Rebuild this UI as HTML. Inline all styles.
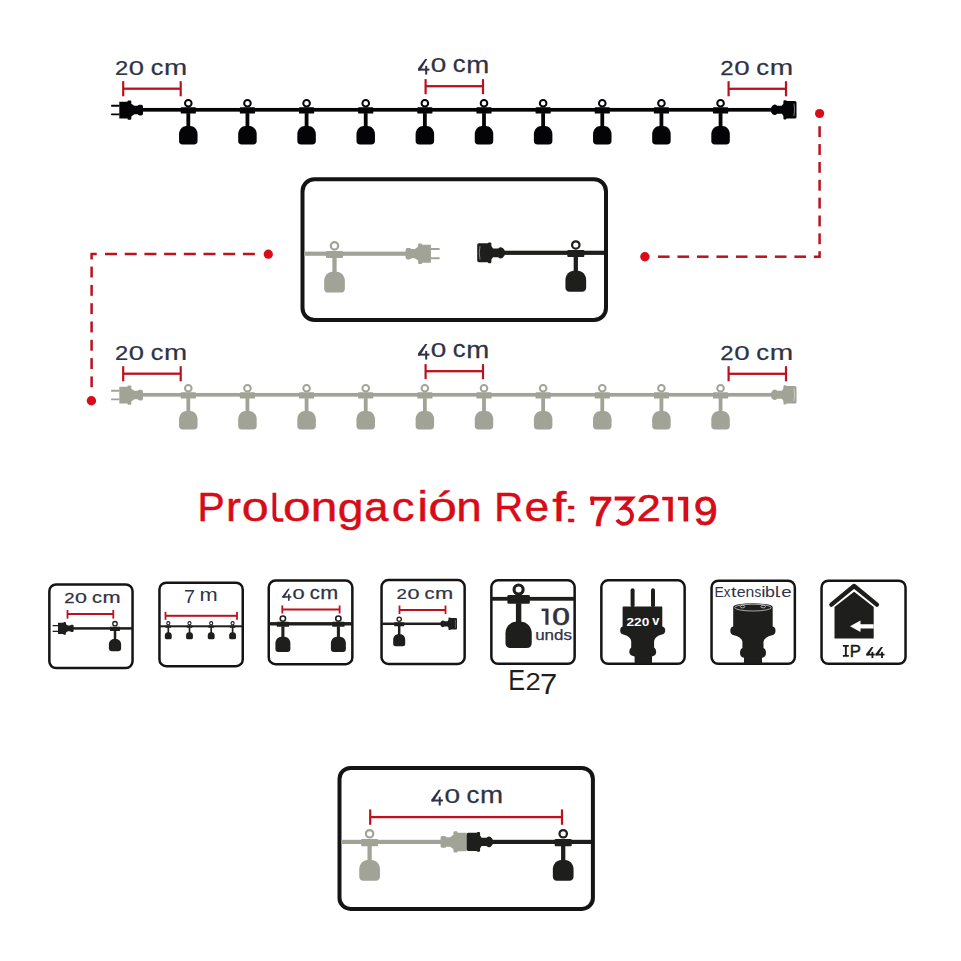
<!DOCTYPE html>
<html><head><meta charset="utf-8"><style>
html,body{margin:0;padding:0;background:#fff;overflow:hidden;}
svg{display:block;}
text{font-family:"Liberation Sans",sans-serif;}
</style></head><body>
<svg width="961" height="961" viewBox="0 0 961 961">
<rect width="961" height="961" fill="#fff"/>
<rect x="140.00" y="107.95" width="633.00" height="3.70" fill="#040406"/>
<g transform="translate(111.10,110.05) scale(1.000,1.000)" fill="#040406"><path d="M8.2,-8.4 L16.4,-8.4 L16.4,-8.7 Q16.4,-9.6 17.4,-9.6 L19.2,-9.6 Q20.2,-9.6 20.2,-8.6 L20.2,-6.4 L23.2,-4.3 L26.6,-4.3 Q27.2,-5.4 28.6,-5.4 L30.2,-5.4 Q31.9,-5.4 31.9,-3.4 L31.9,3.4 Q31.9,5.4 30.2,5.4 L28.6,5.4 Q27.2,5.4 26.6,4.3 L23.2,4.3 L20.2,6.4 L20.2,8.6 Q20.2,9.6 19.2,9.6 L17.4,9.6 Q16.4,9.6 16.4,8.7 L16.4,8.4 L8.2,8.4 Z"/><path d="M0.3,-5.3 H8.4 V-3.4 H0.3 Q0,-3.4 0,-4.35 Q0,-5.3 0.3,-5.3 Z M0.3,3.4 H8.4 V5.3 H0.3 Q0,5.3 0,4.35 Q0,3.4 0.3,3.4 Z"/></g>
<circle cx="188.30" cy="103.20" r="3.30" fill="none" stroke="#040406" stroke-width="2.00"/>
<rect x="180.70" y="107.30" width="15.20" height="6.30" rx="0.90" fill="#040406"/>
<rect x="186.40" y="113.10" width="3.80" height="13.80" fill="#040406"/>
<path d="M179.05,134.08 C179.05,129.34 182.75,125.90 186.45,125.90 L190.15,125.90 C193.85,125.90 197.55,129.34 197.55,134.08 L197.55,140.78 Q197.55,144.50 193.83,144.50 L182.77,144.50 Q179.05,144.50 179.05,140.78 Z" fill="#040406"/>
<circle cx="247.44" cy="103.20" r="3.30" fill="none" stroke="#040406" stroke-width="2.00"/>
<rect x="239.84" y="107.30" width="15.20" height="6.30" rx="0.90" fill="#040406"/>
<rect x="245.54" y="113.10" width="3.80" height="13.80" fill="#040406"/>
<path d="M238.19,134.08 C238.19,129.34 241.89,125.90 245.59,125.90 L249.29,125.90 C252.99,125.90 256.69,129.34 256.69,134.08 L256.69,140.78 Q256.69,144.50 252.97,144.50 L241.91,144.50 Q238.19,144.50 238.19,140.78 Z" fill="#040406"/>
<circle cx="306.58" cy="103.20" r="3.30" fill="none" stroke="#040406" stroke-width="2.00"/>
<rect x="298.98" y="107.30" width="15.20" height="6.30" rx="0.90" fill="#040406"/>
<rect x="304.68" y="113.10" width="3.80" height="13.80" fill="#040406"/>
<path d="M297.33,134.08 C297.33,129.34 301.03,125.90 304.73,125.90 L308.43,125.90 C312.13,125.90 315.83,129.34 315.83,134.08 L315.83,140.78 Q315.83,144.50 312.11,144.50 L301.05,144.50 Q297.33,144.50 297.33,140.78 Z" fill="#040406"/>
<circle cx="365.72" cy="103.20" r="3.30" fill="none" stroke="#040406" stroke-width="2.00"/>
<rect x="358.12" y="107.30" width="15.20" height="6.30" rx="0.90" fill="#040406"/>
<rect x="363.82" y="113.10" width="3.80" height="13.80" fill="#040406"/>
<path d="M356.47,134.08 C356.47,129.34 360.17,125.90 363.87,125.90 L367.57,125.90 C371.27,125.90 374.97,129.34 374.97,134.08 L374.97,140.78 Q374.97,144.50 371.25,144.50 L360.19,144.50 Q356.47,144.50 356.47,140.78 Z" fill="#040406"/>
<circle cx="424.86" cy="103.20" r="3.30" fill="none" stroke="#040406" stroke-width="2.00"/>
<rect x="417.26" y="107.30" width="15.20" height="6.30" rx="0.90" fill="#040406"/>
<rect x="422.96" y="113.10" width="3.80" height="13.80" fill="#040406"/>
<path d="M415.61,134.08 C415.61,129.34 419.31,125.90 423.01,125.90 L426.71,125.90 C430.41,125.90 434.11,129.34 434.11,134.08 L434.11,140.78 Q434.11,144.50 430.39,144.50 L419.33,144.50 Q415.61,144.50 415.61,140.78 Z" fill="#040406"/>
<circle cx="484.00" cy="103.20" r="3.30" fill="none" stroke="#040406" stroke-width="2.00"/>
<rect x="476.40" y="107.30" width="15.20" height="6.30" rx="0.90" fill="#040406"/>
<rect x="482.10" y="113.10" width="3.80" height="13.80" fill="#040406"/>
<path d="M474.75,134.08 C474.75,129.34 478.45,125.90 482.15,125.90 L485.85,125.90 C489.55,125.90 493.25,129.34 493.25,134.08 L493.25,140.78 Q493.25,144.50 489.53,144.50 L478.47,144.50 Q474.75,144.50 474.75,140.78 Z" fill="#040406"/>
<circle cx="543.14" cy="103.20" r="3.30" fill="none" stroke="#040406" stroke-width="2.00"/>
<rect x="535.54" y="107.30" width="15.20" height="6.30" rx="0.90" fill="#040406"/>
<rect x="541.24" y="113.10" width="3.80" height="13.80" fill="#040406"/>
<path d="M533.89,134.08 C533.89,129.34 537.59,125.90 541.29,125.90 L544.99,125.90 C548.69,125.90 552.39,129.34 552.39,134.08 L552.39,140.78 Q552.39,144.50 548.67,144.50 L537.61,144.50 Q533.89,144.50 533.89,140.78 Z" fill="#040406"/>
<circle cx="602.28" cy="103.20" r="3.30" fill="none" stroke="#040406" stroke-width="2.00"/>
<rect x="594.68" y="107.30" width="15.20" height="6.30" rx="0.90" fill="#040406"/>
<rect x="600.38" y="113.10" width="3.80" height="13.80" fill="#040406"/>
<path d="M593.03,134.08 C593.03,129.34 596.73,125.90 600.43,125.90 L604.13,125.90 C607.83,125.90 611.53,129.34 611.53,134.08 L611.53,140.78 Q611.53,144.50 607.81,144.50 L596.75,144.50 Q593.03,144.50 593.03,140.78 Z" fill="#040406"/>
<circle cx="661.42" cy="103.20" r="3.30" fill="none" stroke="#040406" stroke-width="2.00"/>
<rect x="653.82" y="107.30" width="15.20" height="6.30" rx="0.90" fill="#040406"/>
<rect x="659.52" y="113.10" width="3.80" height="13.80" fill="#040406"/>
<path d="M652.17,134.08 C652.17,129.34 655.87,125.90 659.57,125.90 L663.27,125.90 C666.97,125.90 670.67,129.34 670.67,134.08 L670.67,140.78 Q670.67,144.50 666.95,144.50 L655.89,144.50 Q652.17,144.50 652.17,140.78 Z" fill="#040406"/>
<circle cx="720.56" cy="103.20" r="3.30" fill="none" stroke="#040406" stroke-width="2.00"/>
<rect x="712.96" y="107.30" width="15.20" height="6.30" rx="0.90" fill="#040406"/>
<rect x="718.66" y="113.10" width="3.80" height="13.80" fill="#040406"/>
<path d="M711.31,134.08 C711.31,129.34 715.01,125.90 718.71,125.90 L722.41,125.90 C726.11,125.90 729.81,129.34 729.81,134.08 L729.81,140.78 Q729.81,144.50 726.09,144.50 L715.03,144.50 Q711.31,144.50 711.31,140.78 Z" fill="#040406"/>
<g transform="translate(796.50,109.80) scale(-1.000,1.000)"><path d="M0,-7.2 Q0,-8.8 1.6,-8.8 L9.8,-8.8 Q9.9,-9.6 10.9,-9.6 L12.1,-9.6 Q13.1,-9.6 13.1,-8.4 L13.1,-6.2 L14.6,-4.0 L19.4,-4.0 Q20.4,-5.2 21.9,-5.2 Q23.6,-5.2 25.3,-2.6 L25.3,2.6 Q23.6,5.2 21.9,5.2 Q20.4,5.2 19.4,4.0 L14.6,4.0 L13.1,6.2 L13.1,8.4 Q13.1,9.6 12.1,9.6 L10.9,9.6 Q9.9,9.6 9.8,8.8 L1.6,8.8 Q0,8.8 0,7.2 Z" fill="#040406"/><path d="M2.6,-6.2 Q1.2,0 2.6,6.2" fill="none" stroke="#8a8a8a" stroke-width="0.9"/></g>
<rect x="122.10" y="81.20" width="2.20" height="15.10" fill="#bb1220"/>
<rect x="179.60" y="81.20" width="2.20" height="15.10" fill="#bb1220"/>
<rect x="123.20" y="87.55" width="57.50" height="2.30" fill="#bb1220"/>
<rect x="424.50" y="79.10" width="2.20" height="15.10" fill="#bb1220"/>
<rect x="481.90" y="79.10" width="2.20" height="15.10" fill="#bb1220"/>
<rect x="425.60" y="85.05" width="57.40" height="2.30" fill="#bb1220"/>
<rect x="727.50" y="81.20" width="2.20" height="15.10" fill="#bb1220"/>
<rect x="784.90" y="81.20" width="2.20" height="15.10" fill="#bb1220"/>
<rect x="728.60" y="87.65" width="57.40" height="2.30" fill="#bb1220"/>
<text transform="translate(115.01,74.80) scale(1.1824,1)" x="0" y="0" font-size="20.05" fill="#2f3346" stroke="#2f3346" stroke-width="0.25" stroke-linejoin="round">2</text>
<text transform="translate(128.83,74.80) scale(1.3664,1)" x="0" y="0" font-size="20.06" fill="#2f3346" stroke="#2f3346" stroke-width="0.22" stroke-linejoin="round">0</text>
<text transform="translate(150.63,74.59) scale(1.1542,1)" x="0" y="0" font-size="21.90" fill="#2f3346" stroke="#2f3346" stroke-width="0.26" stroke-linejoin="round">c</text>
<text transform="translate(163.95,74.60) scale(1.2376,1)" x="0" y="0" font-size="22.49" fill="#2f3346" stroke="#2f3346" stroke-width="0.24" stroke-linejoin="round">m</text>
<path fill="#2f3346" d="M425.10,59.00 L427.30,59.00 L420.20,70.61 L418.00,70.61 L418.00,68.61 Z"/>
<rect x="418.00" y="68.61" width="11.43" height="2.00" fill="#2f3346"/>
<rect x="425.20" y="65.86" width="2.00" height="8.74" fill="#2f3346"/>
<text transform="translate(430.85,72.21) scale(1.4111,1)" x="0" y="0" font-size="19.77" fill="#2f3346" stroke="#2f3346" stroke-width="0.21" stroke-linejoin="round">0</text>
<text transform="translate(452.82,72.47) scale(1.1038,1)" x="0" y="0" font-size="23.18" fill="#2f3346" stroke="#2f3346" stroke-width="0.27" stroke-linejoin="round">c</text>
<text transform="translate(466.21,72.50) scale(1.1704,1)" x="0" y="0" font-size="23.60" fill="#2f3346" stroke="#2f3346" stroke-width="0.26" stroke-linejoin="round">m</text>
<text transform="translate(720.20,75.00) scale(1.1859,1)" x="0" y="0" font-size="20.19" fill="#2f3346" stroke="#2f3346" stroke-width="0.25" stroke-linejoin="round">2</text>
<text transform="translate(734.16,75.00) scale(1.3704,1)" x="0" y="0" font-size="20.20" fill="#2f3346" stroke="#2f3346" stroke-width="0.22" stroke-linejoin="round">0</text>
<text transform="translate(756.17,74.78) scale(1.1576,1)" x="0" y="0" font-size="22.06" fill="#2f3346" stroke="#2f3346" stroke-width="0.26" stroke-linejoin="round">c</text>
<text transform="translate(769.64,74.80) scale(1.2413,1)" x="0" y="0" font-size="22.65" fill="#2f3346" stroke="#2f3346" stroke-width="0.24" stroke-linejoin="round">m</text>
<rect x="140.00" y="392.95" width="633.00" height="3.70" fill="#a2a397"/>
<g transform="translate(111.10,395.05) scale(1.000,1.000)" fill="#a2a397"><path d="M8.2,-8.4 L16.4,-8.4 L16.4,-8.7 Q16.4,-9.6 17.4,-9.6 L19.2,-9.6 Q20.2,-9.6 20.2,-8.6 L20.2,-6.4 L23.2,-4.3 L26.6,-4.3 Q27.2,-5.4 28.6,-5.4 L30.2,-5.4 Q31.9,-5.4 31.9,-3.4 L31.9,3.4 Q31.9,5.4 30.2,5.4 L28.6,5.4 Q27.2,5.4 26.6,4.3 L23.2,4.3 L20.2,6.4 L20.2,8.6 Q20.2,9.6 19.2,9.6 L17.4,9.6 Q16.4,9.6 16.4,8.7 L16.4,8.4 L8.2,8.4 Z"/><path d="M0.3,-5.3 H8.4 V-3.4 H0.3 Q0,-3.4 0,-4.35 Q0,-5.3 0.3,-5.3 Z M0.3,3.4 H8.4 V5.3 H0.3 Q0,5.3 0,4.35 Q0,3.4 0.3,3.4 Z"/></g>
<circle cx="188.30" cy="388.20" r="3.30" fill="none" stroke="#a2a397" stroke-width="2.00"/>
<rect x="180.70" y="392.30" width="15.20" height="6.30" rx="0.90" fill="#a2a397"/>
<rect x="186.40" y="398.10" width="3.80" height="13.80" fill="#a2a397"/>
<path d="M179.05,419.08 C179.05,414.34 182.75,410.90 186.45,410.90 L190.15,410.90 C193.85,410.90 197.55,414.34 197.55,419.08 L197.55,425.78 Q197.55,429.50 193.83,429.50 L182.77,429.50 Q179.05,429.50 179.05,425.78 Z" fill="#a2a397"/>
<circle cx="247.44" cy="388.20" r="3.30" fill="none" stroke="#a2a397" stroke-width="2.00"/>
<rect x="239.84" y="392.30" width="15.20" height="6.30" rx="0.90" fill="#a2a397"/>
<rect x="245.54" y="398.10" width="3.80" height="13.80" fill="#a2a397"/>
<path d="M238.19,419.08 C238.19,414.34 241.89,410.90 245.59,410.90 L249.29,410.90 C252.99,410.90 256.69,414.34 256.69,419.08 L256.69,425.78 Q256.69,429.50 252.97,429.50 L241.91,429.50 Q238.19,429.50 238.19,425.78 Z" fill="#a2a397"/>
<circle cx="306.58" cy="388.20" r="3.30" fill="none" stroke="#a2a397" stroke-width="2.00"/>
<rect x="298.98" y="392.30" width="15.20" height="6.30" rx="0.90" fill="#a2a397"/>
<rect x="304.68" y="398.10" width="3.80" height="13.80" fill="#a2a397"/>
<path d="M297.33,419.08 C297.33,414.34 301.03,410.90 304.73,410.90 L308.43,410.90 C312.13,410.90 315.83,414.34 315.83,419.08 L315.83,425.78 Q315.83,429.50 312.11,429.50 L301.05,429.50 Q297.33,429.50 297.33,425.78 Z" fill="#a2a397"/>
<circle cx="365.72" cy="388.20" r="3.30" fill="none" stroke="#a2a397" stroke-width="2.00"/>
<rect x="358.12" y="392.30" width="15.20" height="6.30" rx="0.90" fill="#a2a397"/>
<rect x="363.82" y="398.10" width="3.80" height="13.80" fill="#a2a397"/>
<path d="M356.47,419.08 C356.47,414.34 360.17,410.90 363.87,410.90 L367.57,410.90 C371.27,410.90 374.97,414.34 374.97,419.08 L374.97,425.78 Q374.97,429.50 371.25,429.50 L360.19,429.50 Q356.47,429.50 356.47,425.78 Z" fill="#a2a397"/>
<circle cx="424.86" cy="388.20" r="3.30" fill="none" stroke="#a2a397" stroke-width="2.00"/>
<rect x="417.26" y="392.30" width="15.20" height="6.30" rx="0.90" fill="#a2a397"/>
<rect x="422.96" y="398.10" width="3.80" height="13.80" fill="#a2a397"/>
<path d="M415.61,419.08 C415.61,414.34 419.31,410.90 423.01,410.90 L426.71,410.90 C430.41,410.90 434.11,414.34 434.11,419.08 L434.11,425.78 Q434.11,429.50 430.39,429.50 L419.33,429.50 Q415.61,429.50 415.61,425.78 Z" fill="#a2a397"/>
<circle cx="484.00" cy="388.20" r="3.30" fill="none" stroke="#a2a397" stroke-width="2.00"/>
<rect x="476.40" y="392.30" width="15.20" height="6.30" rx="0.90" fill="#a2a397"/>
<rect x="482.10" y="398.10" width="3.80" height="13.80" fill="#a2a397"/>
<path d="M474.75,419.08 C474.75,414.34 478.45,410.90 482.15,410.90 L485.85,410.90 C489.55,410.90 493.25,414.34 493.25,419.08 L493.25,425.78 Q493.25,429.50 489.53,429.50 L478.47,429.50 Q474.75,429.50 474.75,425.78 Z" fill="#a2a397"/>
<circle cx="543.14" cy="388.20" r="3.30" fill="none" stroke="#a2a397" stroke-width="2.00"/>
<rect x="535.54" y="392.30" width="15.20" height="6.30" rx="0.90" fill="#a2a397"/>
<rect x="541.24" y="398.10" width="3.80" height="13.80" fill="#a2a397"/>
<path d="M533.89,419.08 C533.89,414.34 537.59,410.90 541.29,410.90 L544.99,410.90 C548.69,410.90 552.39,414.34 552.39,419.08 L552.39,425.78 Q552.39,429.50 548.67,429.50 L537.61,429.50 Q533.89,429.50 533.89,425.78 Z" fill="#a2a397"/>
<circle cx="602.28" cy="388.20" r="3.30" fill="none" stroke="#a2a397" stroke-width="2.00"/>
<rect x="594.68" y="392.30" width="15.20" height="6.30" rx="0.90" fill="#a2a397"/>
<rect x="600.38" y="398.10" width="3.80" height="13.80" fill="#a2a397"/>
<path d="M593.03,419.08 C593.03,414.34 596.73,410.90 600.43,410.90 L604.13,410.90 C607.83,410.90 611.53,414.34 611.53,419.08 L611.53,425.78 Q611.53,429.50 607.81,429.50 L596.75,429.50 Q593.03,429.50 593.03,425.78 Z" fill="#a2a397"/>
<circle cx="661.42" cy="388.20" r="3.30" fill="none" stroke="#a2a397" stroke-width="2.00"/>
<rect x="653.82" y="392.30" width="15.20" height="6.30" rx="0.90" fill="#a2a397"/>
<rect x="659.52" y="398.10" width="3.80" height="13.80" fill="#a2a397"/>
<path d="M652.17,419.08 C652.17,414.34 655.87,410.90 659.57,410.90 L663.27,410.90 C666.97,410.90 670.67,414.34 670.67,419.08 L670.67,425.78 Q670.67,429.50 666.95,429.50 L655.89,429.50 Q652.17,429.50 652.17,425.78 Z" fill="#a2a397"/>
<circle cx="720.56" cy="388.20" r="3.30" fill="none" stroke="#a2a397" stroke-width="2.00"/>
<rect x="712.96" y="392.30" width="15.20" height="6.30" rx="0.90" fill="#a2a397"/>
<rect x="718.66" y="398.10" width="3.80" height="13.80" fill="#a2a397"/>
<path d="M711.31,419.08 C711.31,414.34 715.01,410.90 718.71,410.90 L722.41,410.90 C726.11,410.90 729.81,414.34 729.81,419.08 L729.81,425.78 Q729.81,429.50 726.09,429.50 L715.03,429.50 Q711.31,429.50 711.31,425.78 Z" fill="#a2a397"/>
<g transform="translate(796.50,394.80) scale(-1.000,1.000)"><path d="M0,-7.2 Q0,-8.8 1.6,-8.8 L9.8,-8.8 Q9.9,-9.6 10.9,-9.6 L12.1,-9.6 Q13.1,-9.6 13.1,-8.4 L13.1,-6.2 L14.6,-4.0 L19.4,-4.0 Q20.4,-5.2 21.9,-5.2 Q23.6,-5.2 25.3,-2.6 L25.3,2.6 Q23.6,5.2 21.9,5.2 Q20.4,5.2 19.4,4.0 L14.6,4.0 L13.1,6.2 L13.1,8.4 Q13.1,9.6 12.1,9.6 L10.9,9.6 Q9.9,9.6 9.8,8.8 L1.6,8.8 Q0,8.8 0,7.2 Z" fill="#a2a397"/><path d="M2.6,-6.2 Q1.2,0 2.6,6.2" fill="none" stroke="#d2d2ca" stroke-width="0.9"/></g>
<rect x="122.10" y="366.20" width="2.20" height="15.10" fill="#bb1220"/>
<rect x="179.60" y="366.20" width="2.20" height="15.10" fill="#bb1220"/>
<rect x="123.20" y="372.55" width="57.50" height="2.30" fill="#bb1220"/>
<rect x="424.50" y="364.10" width="2.20" height="15.10" fill="#bb1220"/>
<rect x="481.90" y="364.10" width="2.20" height="15.10" fill="#bb1220"/>
<rect x="425.60" y="370.05" width="57.40" height="2.30" fill="#bb1220"/>
<rect x="727.50" y="366.20" width="2.20" height="15.10" fill="#bb1220"/>
<rect x="784.90" y="366.20" width="2.20" height="15.10" fill="#bb1220"/>
<rect x="728.60" y="372.65" width="57.40" height="2.30" fill="#bb1220"/>
<text transform="translate(115.01,359.80) scale(1.1824,1)" x="0" y="0" font-size="20.05" fill="#2f3346" stroke="#2f3346" stroke-width="0.25" stroke-linejoin="round">2</text>
<text transform="translate(128.83,359.80) scale(1.3664,1)" x="0" y="0" font-size="20.06" fill="#2f3346" stroke="#2f3346" stroke-width="0.22" stroke-linejoin="round">0</text>
<text transform="translate(150.63,359.59) scale(1.1542,1)" x="0" y="0" font-size="21.90" fill="#2f3346" stroke="#2f3346" stroke-width="0.26" stroke-linejoin="round">c</text>
<text transform="translate(163.95,359.60) scale(1.2376,1)" x="0" y="0" font-size="22.49" fill="#2f3346" stroke="#2f3346" stroke-width="0.24" stroke-linejoin="round">m</text>
<path fill="#2f3346" d="M425.10,344.00 L427.30,344.00 L420.20,355.61 L418.00,355.61 L418.00,353.61 Z"/>
<rect x="418.00" y="353.61" width="11.43" height="2.00" fill="#2f3346"/>
<rect x="425.20" y="350.86" width="2.00" height="8.74" fill="#2f3346"/>
<text transform="translate(430.85,357.21) scale(1.4111,1)" x="0" y="0" font-size="19.77" fill="#2f3346" stroke="#2f3346" stroke-width="0.21" stroke-linejoin="round">0</text>
<text transform="translate(452.82,357.47) scale(1.1038,1)" x="0" y="0" font-size="23.18" fill="#2f3346" stroke="#2f3346" stroke-width="0.27" stroke-linejoin="round">c</text>
<text transform="translate(466.21,357.50) scale(1.1704,1)" x="0" y="0" font-size="23.60" fill="#2f3346" stroke="#2f3346" stroke-width="0.26" stroke-linejoin="round">m</text>
<text transform="translate(720.20,360.00) scale(1.1859,1)" x="0" y="0" font-size="20.19" fill="#2f3346" stroke="#2f3346" stroke-width="0.25" stroke-linejoin="round">2</text>
<text transform="translate(734.16,360.00) scale(1.3704,1)" x="0" y="0" font-size="20.20" fill="#2f3346" stroke="#2f3346" stroke-width="0.22" stroke-linejoin="round">0</text>
<text transform="translate(756.17,359.78) scale(1.1576,1)" x="0" y="0" font-size="22.06" fill="#2f3346" stroke="#2f3346" stroke-width="0.26" stroke-linejoin="round">c</text>
<text transform="translate(769.64,359.80) scale(1.2413,1)" x="0" y="0" font-size="22.65" fill="#2f3346" stroke="#2f3346" stroke-width="0.24" stroke-linejoin="round">m</text>
<circle cx="819.60" cy="113.50" r="4.60" fill="#d70c18"/>
<rect x="818.35" y="126.20" width="2.5" height="10.90" fill="#bb1220"/>
<rect x="818.35" y="144.06" width="2.5" height="10.90" fill="#bb1220"/>
<rect x="818.35" y="161.92" width="2.5" height="10.90" fill="#bb1220"/>
<rect x="818.35" y="179.78" width="2.5" height="10.90" fill="#bb1220"/>
<rect x="818.35" y="197.64" width="2.5" height="10.90" fill="#bb1220"/>
<rect x="818.35" y="215.50" width="2.5" height="10.90" fill="#bb1220"/>
<rect x="818.35" y="233.36" width="2.5" height="10.90" fill="#bb1220"/>
<path d="M819.6,251.2 V256.7 H813.9" fill="none" stroke="#bb1220" stroke-width="2.5" stroke-linejoin="miter"/>
<rect x="794.40" y="255.45" width="11.60" height="2.5" fill="#bb1220"/>
<rect x="774.91" y="255.45" width="11.60" height="2.5" fill="#bb1220"/>
<rect x="755.42" y="255.45" width="11.60" height="2.5" fill="#bb1220"/>
<rect x="735.93" y="255.45" width="11.60" height="2.5" fill="#bb1220"/>
<rect x="716.44" y="255.45" width="11.60" height="2.5" fill="#bb1220"/>
<rect x="696.95" y="255.45" width="11.60" height="2.5" fill="#bb1220"/>
<rect x="677.46" y="255.45" width="11.60" height="2.5" fill="#bb1220"/>
<rect x="657.97" y="255.45" width="11.60" height="2.5" fill="#bb1220"/>
<circle cx="644.90" cy="256.80" r="4.70" fill="#d70c18"/>
<circle cx="268.30" cy="254.20" r="4.60" fill="#d70c18"/>
<rect x="105.00" y="252.75" width="12.00" height="2.5" fill="#bb1220"/>
<rect x="124.70" y="252.75" width="12.00" height="2.5" fill="#bb1220"/>
<rect x="144.40" y="252.75" width="12.00" height="2.5" fill="#bb1220"/>
<rect x="164.10" y="252.75" width="12.00" height="2.5" fill="#bb1220"/>
<rect x="183.80" y="252.75" width="12.00" height="2.5" fill="#bb1220"/>
<rect x="203.50" y="252.75" width="12.00" height="2.5" fill="#bb1220"/>
<rect x="223.20" y="252.75" width="12.00" height="2.5" fill="#bb1220"/>
<rect x="242.90" y="252.75" width="12.00" height="2.5" fill="#bb1220"/>
<path d="M96.7,254.0 H91.6 V259.6" fill="none" stroke="#bb1220" stroke-width="2.5" stroke-linejoin="miter"/>
<rect x="90.35" y="266.60" width="2.5" height="10.90" fill="#bb1220"/>
<rect x="90.35" y="284.90" width="2.5" height="10.90" fill="#bb1220"/>
<rect x="90.35" y="303.20" width="2.5" height="10.90" fill="#bb1220"/>
<rect x="90.35" y="321.50" width="2.5" height="10.90" fill="#bb1220"/>
<rect x="90.35" y="339.80" width="2.5" height="10.90" fill="#bb1220"/>
<rect x="90.35" y="358.10" width="2.5" height="10.90" fill="#bb1220"/>
<rect x="90.35" y="376.40" width="2.5" height="10.90" fill="#bb1220"/>
<circle cx="91.40" cy="400.70" r="4.70" fill="#d70c18"/>
<rect x="302.50" y="179.20" width="303.50" height="140.80" rx="12.00" fill="none" stroke="#141414" stroke-width="4"/>
<rect x="304.00" y="251.60" width="103.00" height="4.20" fill="#a2a397"/>
<circle cx="334.50" cy="245.86" r="3.70" fill="none" stroke="#a2a397" stroke-width="2.24"/>
<rect x="325.99" y="250.90" width="17.02" height="7.06" rx="1.01" fill="#a2a397"/>
<rect x="332.37" y="257.46" width="4.26" height="15.28" fill="#a2a397"/>
<path d="M324.14,280.90 C324.14,275.58 328.28,271.73 332.43,271.73 L336.57,271.73 C340.72,271.73 344.86,275.58 344.86,280.90 L344.86,288.40 Q344.86,292.56 340.69,292.56 L328.31,292.56 Q324.14,292.56 324.14,288.40 Z" fill="#a2a397"/>
<g transform="translate(439.70,253.70) scale(-1.070,1.070)" fill="#a2a397"><path d="M8.2,-8.4 L16.4,-8.4 L16.4,-8.7 Q16.4,-9.6 17.4,-9.6 L19.2,-9.6 Q20.2,-9.6 20.2,-8.6 L20.2,-6.4 L23.2,-4.3 L26.6,-4.3 Q27.2,-5.4 28.6,-5.4 L30.2,-5.4 Q31.9,-5.4 31.9,-3.4 L31.9,3.4 Q31.9,5.4 30.2,5.4 L28.6,5.4 Q27.2,5.4 26.6,4.3 L23.2,4.3 L20.2,6.4 L20.2,8.6 Q20.2,9.6 19.2,9.6 L17.4,9.6 Q16.4,9.6 16.4,8.7 L16.4,8.4 L8.2,8.4 Z"/><path d="M0.3,-5.3 H8.4 V-3.4 H0.3 Q0,-3.4 0,-4.35 Q0,-5.3 0.3,-5.3 Z M0.3,3.4 H8.4 V5.3 H0.3 Q0,5.3 0,4.35 Q0,3.4 0.3,3.4 Z"/></g>
<g transform="translate(477.20,252.80) scale(1.083,1.083)"><path d="M0,-7.2 Q0,-8.8 1.6,-8.8 L9.8,-8.8 Q9.9,-9.6 10.9,-9.6 L12.1,-9.6 Q13.1,-9.6 13.1,-8.4 L13.1,-6.2 L14.6,-4.0 L19.4,-4.0 Q20.4,-5.2 21.9,-5.2 Q23.6,-5.2 25.3,-2.6 L25.3,2.6 Q23.6,5.2 21.9,5.2 Q20.4,5.2 19.4,4.0 L14.6,4.0 L13.1,6.2 L13.1,8.4 Q13.1,9.6 12.1,9.6 L10.9,9.6 Q9.9,9.6 9.8,8.8 L1.6,8.8 Q0,8.8 0,7.2 Z" fill="#1e1e1c"/><path d="M2.6,-6.2 Q1.2,0 2.6,6.2" fill="none" stroke="#8a8a8a" stroke-width="0.9"/></g>
<rect x="503.00" y="250.70" width="101.00" height="4.20" fill="#1e1e1c"/>
<circle cx="575.80" cy="244.96" r="3.70" fill="none" stroke="#1e1e1c" stroke-width="2.24"/>
<rect x="567.29" y="250.00" width="17.02" height="7.06" rx="1.01" fill="#1e1e1c"/>
<rect x="573.67" y="256.56" width="4.26" height="15.28" fill="#1e1e1c"/>
<path d="M565.44,280.00 C565.44,274.68 569.58,270.83 573.73,270.83 L577.87,270.83 C582.02,270.83 586.16,274.68 586.16,280.00 L586.16,287.50 Q586.16,291.66 581.99,291.66 L569.61,291.66 Q565.44,291.66 565.44,287.50 Z" fill="#1e1e1c"/>
<rect x="339.50" y="767.90" width="253.40" height="141.00" rx="11.00" fill="none" stroke="#141414" stroke-width="4"/>
<rect x="341.00" y="839.80" width="101.00" height="4.20" fill="#a2a397"/>
<circle cx="369.60" cy="833.72" r="3.70" fill="none" stroke="#a2a397" stroke-width="2.24"/>
<rect x="361.09" y="839.10" width="17.02" height="7.06" rx="1.01" fill="#a2a397"/>
<rect x="367.47" y="845.66" width="4.26" height="15.28" fill="#a2a397"/>
<path d="M359.24,869.10 C359.24,863.78 363.38,859.93 367.53,859.93 L371.67,859.93 C375.82,859.93 379.96,863.78 379.96,869.10 L379.96,876.60 Q379.96,880.76 375.79,880.76 L363.41,880.76 Q359.24,880.76 359.24,876.60 Z" fill="#a2a397"/>
<g transform="translate(475.62,841.90) scale(-1.100,1.100)" fill="#a2a397"><path d="M8.2,-8.4 L16.4,-8.4 L16.4,-8.7 Q16.4,-9.6 17.4,-9.6 L19.2,-9.6 Q20.2,-9.6 20.2,-8.6 L20.2,-6.4 L23.2,-4.3 L26.6,-4.3 Q27.2,-5.4 28.6,-5.4 L30.2,-5.4 Q31.9,-5.4 31.9,-3.4 L31.9,3.4 Q31.9,5.4 30.2,5.4 L28.6,5.4 Q27.2,5.4 26.6,4.3 L23.2,4.3 L20.2,6.4 L20.2,8.6 Q20.2,9.6 19.2,9.6 L17.4,9.6 Q16.4,9.6 16.4,8.7 L16.4,8.4 L8.2,8.4 Z"/></g>
<g transform="translate(466.60,841.90) scale(1.030,1.030)"><path d="M0,-7.2 Q0,-8.8 1.6,-8.8 L9.8,-8.8 Q9.9,-9.6 10.9,-9.6 L12.1,-9.6 Q13.1,-9.6 13.1,-8.4 L13.1,-6.2 L14.6,-4.0 L19.4,-4.0 Q20.4,-5.2 21.9,-5.2 Q23.6,-5.2 25.3,-2.6 L25.3,2.6 Q23.6,5.2 21.9,5.2 Q20.4,5.2 19.4,4.0 L14.6,4.0 L13.1,6.2 L13.1,8.4 Q13.1,9.6 12.1,9.6 L10.9,9.6 Q9.9,9.6 9.8,8.8 L1.6,8.8 Q0,8.8 0,7.2 Z" fill="#1e1e1c"/></g>
<rect x="490.00" y="839.80" width="101.00" height="4.20" fill="#1e1e1c"/>
<circle cx="563.20" cy="833.72" r="3.70" fill="none" stroke="#1e1e1c" stroke-width="2.24"/>
<rect x="554.69" y="839.10" width="17.02" height="7.06" rx="1.01" fill="#1e1e1c"/>
<rect x="561.07" y="845.66" width="4.26" height="15.28" fill="#1e1e1c"/>
<path d="M552.84,869.10 C552.84,863.78 556.98,859.93 561.13,859.93 L565.27,859.93 C569.42,859.93 573.56,863.78 573.56,869.10 L573.56,876.60 Q573.56,880.76 569.39,880.76 L557.01,880.76 Q552.84,880.76 552.84,876.60 Z" fill="#1e1e1c"/>
<rect x="369.10" y="809.40" width="2.20" height="15.40" fill="#bb1220"/>
<rect x="560.90" y="809.40" width="2.20" height="15.40" fill="#bb1220"/>
<rect x="370.20" y="815.95" width="191.80" height="2.30" fill="#bb1220"/>
<path fill="#2f3346" d="M438.62,789.80 L440.84,789.80 L433.71,801.50 L431.50,801.50 L431.50,799.48 Z"/>
<rect x="431.50" y="799.48" width="11.48" height="2.01" fill="#2f3346"/>
<rect x="438.73" y="796.72" width="2.01" height="8.80" fill="#2f3346"/>
<text transform="translate(444.41,803.11) scale(1.4072,1)" x="0" y="0" font-size="19.92" fill="#2f3346" stroke="#2f3346" stroke-width="0.21" stroke-linejoin="round">0</text>
<text transform="translate(466.47,803.37) scale(1.1007,1)" x="0" y="0" font-size="23.35" fill="#2f3346" stroke="#2f3346" stroke-width="0.27" stroke-linejoin="round">c</text>
<text transform="translate(479.92,803.40) scale(1.1671,1)" x="0" y="0" font-size="23.77" fill="#2f3346" stroke="#2f3346" stroke-width="0.26" stroke-linejoin="round">m</text>
<text transform="translate(197.46,521.40) scale(0.9982,1)" x="0" y="0" font-size="40.84" fill="#d70c18" stroke="#d70c18" stroke-width="0.50" stroke-linejoin="round">P</text>
<text transform="translate(225.93,521.40) scale(1.1007,1)" x="0" y="0" font-size="40.70" fill="#d70c18" stroke="#d70c18" stroke-width="0.45" stroke-linejoin="round">r</text>
<text transform="translate(241.76,521.40) scale(1.1809,1)" x="0" y="0" font-size="41.07" fill="#d70c18" stroke="#d70c18" stroke-width="0.42" stroke-linejoin="round">o</text>
<text transform="translate(283.12,521.40) scale(1.2067,1)" x="0" y="0" font-size="41.07" fill="#d70c18" stroke="#d70c18" stroke-width="0.41" stroke-linejoin="round">o</text>
<text transform="translate(310.63,521.40) scale(1.1635,1)" x="0" y="0" font-size="41.07" fill="#d70c18" stroke="#d70c18" stroke-width="0.43" stroke-linejoin="round">n</text>
<text transform="translate(337.86,521.58) scale(1.1139,1)" x="0" y="0" font-size="41.52" fill="#d70c18" stroke="#d70c18" stroke-width="0.45" stroke-linejoin="round">g</text>
<text transform="translate(364.26,521.40) scale(1.0571,1)" x="0" y="0" font-size="41.07" fill="#d70c18" stroke="#d70c18" stroke-width="0.47" stroke-linejoin="round">a</text>
<text transform="translate(391.87,521.40) scale(1.1069,1)" x="0" y="0" font-size="41.07" fill="#d70c18" stroke="#d70c18" stroke-width="0.45" stroke-linejoin="round">c</text>
<text transform="translate(417.13,521.40) scale(1.1623,1)" x="0" y="0" font-size="42.09" fill="#d70c18" stroke="#d70c18" stroke-width="0.43" stroke-linejoin="round">i</text>
<text transform="translate(428.13,521.40) scale(1.2683,1)" x="0" y="0" font-size="40.75" fill="#d70c18" stroke="#d70c18" stroke-width="0.39" stroke-linejoin="round">ó</text>
<text transform="translate(456.35,521.40) scale(1.1176,1)" x="0" y="0" font-size="41.07" fill="#d70c18" stroke="#d70c18" stroke-width="0.45" stroke-linejoin="round">n</text>
<text transform="translate(494.23,521.40) scale(0.9704,1)" x="0" y="0" font-size="41.13" fill="#d70c18" stroke="#d70c18" stroke-width="0.52" stroke-linejoin="round">R</text>
<text transform="translate(524.52,521.40) scale(1.0890,1)" x="0" y="0" font-size="40.70" fill="#d70c18" stroke="#d70c18" stroke-width="0.46" stroke-linejoin="round">e</text>
<text transform="translate(552.28,521.40) scale(1.2618,1)" x="0" y="0" font-size="40.35" fill="#d70c18" stroke="#d70c18" stroke-width="0.40" stroke-linejoin="round">f</text>
<text transform="translate(563.03,521.80) scale(2.0309,1)" x="0" y="0" font-size="28.96" fill="#d70c18" stroke="#d70c18" stroke-width="0.25" stroke-linejoin="round">:</text>
<path fill="#d70c18" d="M272.5,492.8 V515.5 Q272.5,521.8 278.5,521.8 H283.3 V518.3 H279 Q276.2,518.3 276.2,515.2 V492.8 Z"/>
<path fill="none" stroke="#d70c18" stroke-width="3.8" stroke-linejoin="miter" d="M614.6,498.5 H631.6 L623.0,507.9 A8.0,8.0 0 1 1 617.07,519.80"/>
<rect x="590.6" y="496.6" width="3.6" height="8.4" fill="#d70c18"/>
<text transform="translate(588.20,525.70) scale(1.0610,1)" x="0" y="0" font-size="42.30" fill="#d70c18" stroke="#d70c18" stroke-width="0.75" stroke-linejoin="round">7</text>
<text transform="translate(636.74,521.40) scale(1.1921,1)" x="0" y="0" font-size="36.09" fill="#d70c18" stroke="#d70c18" stroke-width="0.67" stroke-linejoin="round">2</text>
<text transform="translate(693.77,525.20) scale(1.0498,1)" x="0" y="0" font-size="41.24" fill="#d70c18" stroke="#d70c18" stroke-width="0.76" stroke-linejoin="round">9</text>
<rect x="668.3" y="496.8" width="4.50" height="24.7" fill="#d70c18"/>
<rect x="662.2" y="496.8" width="6.60" height="3.5" fill="#d70c18"/>
<rect x="683.5" y="496.8" width="4.70" height="24.7" fill="#d70c18"/>
<rect x="678.0" y="496.8" width="6.00" height="3.5" fill="#d70c18"/>
<rect x="49.35" y="584.45" width="83.20" height="83.60" rx="6.75" fill="none" stroke="#141414" stroke-width="2.5"/>
<rect x="159.45" y="582.65" width="83.30" height="83.50" rx="6.75" fill="none" stroke="#141414" stroke-width="2.5"/>
<rect x="268.75" y="580.55" width="83.60" height="83.60" rx="6.75" fill="none" stroke="#141414" stroke-width="2.5"/>
<rect x="381.55" y="580.05" width="83.10" height="83.90" rx="6.75" fill="none" stroke="#141414" stroke-width="2.5"/>
<rect x="491.35" y="580.35" width="83.30" height="83.40" rx="6.75" fill="none" stroke="#141414" stroke-width="2.5"/>
<rect x="601.35" y="580.35" width="83.30" height="83.40" rx="6.75" fill="none" stroke="#141414" stroke-width="2.5"/>
<rect x="711.55" y="580.65" width="83.30" height="83.10" rx="6.75" fill="none" stroke="#141414" stroke-width="2.5"/>
<rect x="821.55" y="580.65" width="84.00" height="83.10" rx="6.75" fill="none" stroke="#141414" stroke-width="2.5"/>
<text transform="translate(64.17,603.00) scale(1.2204,1)" x="0" y="0" font-size="15.18" fill="#2f3346" stroke="#2f3346" stroke-width="0.25" stroke-linejoin="round">2</text>
<text transform="translate(74.97,603.00) scale(1.4103,1)" x="0" y="0" font-size="15.19" fill="#2f3346" stroke="#2f3346" stroke-width="0.21" stroke-linejoin="round">0</text>
<text transform="translate(92.00,602.84) scale(1.1913,1)" x="0" y="0" font-size="16.58" fill="#2f3346" stroke="#2f3346" stroke-width="0.25" stroke-linejoin="round">c</text>
<text transform="translate(102.42,602.85) scale(1.2774,1)" x="0" y="0" font-size="17.03" fill="#2f3346" stroke="#2f3346" stroke-width="0.23" stroke-linejoin="round">m</text>
<rect x="66.60" y="610.00" width="1.80" height="8.60" fill="#bb1220"/>
<rect x="112.40" y="610.00" width="1.80" height="8.60" fill="#bb1220"/>
<rect x="67.50" y="613.00" width="45.80" height="2.00" fill="#bb1220"/>
<rect x="72.00" y="627.15" width="60.00" height="2.50" fill="#1e1e1c"/>
<g transform="translate(52.60,628.40) scale(0.660,0.660)" fill="#1e1e1c"><path d="M8.2,-8.4 L16.4,-8.4 L16.4,-8.7 Q16.4,-9.6 17.4,-9.6 L19.2,-9.6 Q20.2,-9.6 20.2,-8.6 L20.2,-6.4 L23.2,-4.3 L26.6,-4.3 Q27.2,-5.4 28.6,-5.4 L30.2,-5.4 Q31.9,-5.4 31.9,-3.4 L31.9,3.4 Q31.9,5.4 30.2,5.4 L28.6,5.4 Q27.2,5.4 26.6,4.3 L23.2,4.3 L20.2,6.4 L20.2,8.6 Q20.2,9.6 19.2,9.6 L17.4,9.6 Q16.4,9.6 16.4,8.7 L16.4,8.4 L8.2,8.4 Z"/><path d="M0.3,-5.3 H8.4 V-3.4 H0.3 Q0,-3.4 0,-4.35 Q0,-5.3 0.3,-5.3 Z M0.3,3.4 H8.4 V5.3 H0.3 Q0,5.3 0,4.35 Q0,3.4 0.3,3.4 Z"/></g>
<circle cx="115.00" cy="623.65" r="2.18" fill="none" stroke="#1e1e1c" stroke-width="1.32"/>
<rect x="109.98" y="626.75" width="10.03" height="4.16" rx="0.59" fill="#1e1e1c"/>
<rect x="113.75" y="630.41" width="2.51" height="9.62" fill="#1e1e1c"/>
<path d="M108.89,644.43 C108.89,641.29 111.34,639.03 113.78,639.03 L116.22,639.03 C118.66,639.03 121.11,641.29 121.11,644.43 L121.11,648.85 Q121.11,651.30 118.65,651.30 L111.35,651.30 Q108.89,651.30 108.89,648.85 Z" fill="#1e1e1c"/>
<text transform="translate(183.98,602.80) scale(1.0985,1)" x="0" y="0" font-size="18.02" fill="#2f3346">7</text>
<text transform="translate(199.55,600.90) scale(1.2500,1)" x="0" y="0" font-size="17.47" fill="#2f3346">m</text>
<rect x="164.60" y="611.80" width="1.80" height="8.00" fill="#bb1220"/>
<rect x="236.10" y="611.80" width="1.80" height="8.00" fill="#bb1220"/>
<rect x="165.50" y="614.80" width="71.50" height="2.00" fill="#bb1220"/>
<rect x="159.50" y="625.30" width="83.50" height="2.00" fill="#1e1e1c"/>
<circle cx="168.30" cy="623.19" r="1.55" fill="none" stroke="#1e1e1c" stroke-width="1.11"/>
<rect x="165.49" y="625.38" width="5.62" height="2.33" rx="0.33" fill="#1e1e1c"/>
<rect x="167.47" y="627.21" width="1.67" height="6.05" fill="#1e1e1c"/>
<path d="M164.88,635.29 C164.88,633.53 166.25,632.26 167.62,632.26 L168.98,632.26 C170.35,632.26 171.72,633.53 171.72,635.29 L171.72,637.76 Q171.72,639.14 170.35,639.14 L166.25,639.14 Q164.88,639.14 164.88,637.76 Z" fill="#1e1e1c"/>
<circle cx="189.50" cy="623.19" r="1.55" fill="none" stroke="#1e1e1c" stroke-width="1.11"/>
<rect x="186.69" y="625.38" width="5.62" height="2.33" rx="0.33" fill="#1e1e1c"/>
<rect x="188.67" y="627.21" width="1.67" height="6.05" fill="#1e1e1c"/>
<path d="M186.08,635.29 C186.08,633.53 187.45,632.26 188.82,632.26 L190.18,632.26 C191.55,632.26 192.92,633.53 192.92,635.29 L192.92,637.76 Q192.92,639.14 191.55,639.14 L187.45,639.14 Q186.08,639.14 186.08,637.76 Z" fill="#1e1e1c"/>
<circle cx="211.20" cy="623.19" r="1.55" fill="none" stroke="#1e1e1c" stroke-width="1.11"/>
<rect x="208.39" y="625.38" width="5.62" height="2.33" rx="0.33" fill="#1e1e1c"/>
<rect x="210.37" y="627.21" width="1.67" height="6.05" fill="#1e1e1c"/>
<path d="M207.78,635.29 C207.78,633.53 209.15,632.26 210.52,632.26 L211.88,632.26 C213.25,632.26 214.62,633.53 214.62,635.29 L214.62,637.76 Q214.62,639.14 213.25,639.14 L209.15,639.14 Q207.78,639.14 207.78,637.76 Z" fill="#1e1e1c"/>
<circle cx="232.60" cy="623.19" r="1.55" fill="none" stroke="#1e1e1c" stroke-width="1.11"/>
<rect x="229.79" y="625.38" width="5.62" height="2.33" rx="0.33" fill="#1e1e1c"/>
<rect x="231.77" y="627.21" width="1.67" height="6.05" fill="#1e1e1c"/>
<path d="M229.18,635.29 C229.18,633.53 230.55,632.26 231.92,632.26 L233.28,632.26 C234.65,632.26 236.02,633.53 236.02,635.29 L236.02,637.76 Q236.02,639.14 234.65,639.14 L230.55,639.14 Q229.18,639.14 229.18,637.76 Z" fill="#1e1e1c"/>
<path fill="#2f3346" d="M287.98,588.67 L289.69,588.67 L284.13,597.70 L282.42,597.70 L282.42,596.15 Z"/>
<rect x="282.42" y="596.15" width="8.94" height="1.56" fill="#2f3346"/>
<rect x="288.05" y="594.01" width="1.56" height="6.80" fill="#2f3346"/>
<text transform="translate(292.47,598.95) scale(1.4175,1)" x="0" y="0" font-size="15.40" fill="#2f3346" stroke="#2f3346" stroke-width="0.21" stroke-linejoin="round">0</text>
<text transform="translate(309.65,599.16) scale(1.1088,1)" x="0" y="0" font-size="18.05" fill="#2f3346" stroke="#2f3346" stroke-width="0.27" stroke-linejoin="round">c</text>
<text transform="translate(320.13,599.18) scale(1.1757,1)" x="0" y="0" font-size="18.38" fill="#2f3346" stroke="#2f3346" stroke-width="0.26" stroke-linejoin="round">m</text>
<rect x="281.40" y="605.50" width="1.80" height="8.00" fill="#bb1220"/>
<rect x="338.70" y="605.50" width="1.80" height="8.00" fill="#bb1220"/>
<rect x="282.30" y="608.50" width="57.30" height="2.00" fill="#bb1220"/>
<rect x="269.00" y="622.10" width="83.00" height="3.40" fill="#1e1e1c"/>
<circle cx="282.90" cy="618.62" r="2.67" fill="none" stroke="#1e1e1c" stroke-width="1.62"/>
<rect x="276.74" y="621.77" width="12.31" height="5.10" rx="0.73" fill="#1e1e1c"/>
<rect x="281.36" y="626.38" width="3.08" height="11.46" fill="#1e1e1c"/>
<path d="M275.41,643.47 C275.41,639.63 278.40,636.84 281.40,636.84 L284.40,636.84 C287.40,636.84 290.39,639.63 290.39,643.47 L290.39,648.89 Q290.39,651.91 287.38,651.91 L278.42,651.91 Q275.41,651.91 275.41,648.89 Z" fill="#1e1e1c"/>
<circle cx="338.40" cy="618.62" r="2.67" fill="none" stroke="#1e1e1c" stroke-width="1.62"/>
<rect x="332.24" y="621.77" width="12.31" height="5.10" rx="0.73" fill="#1e1e1c"/>
<rect x="336.86" y="626.38" width="3.08" height="11.46" fill="#1e1e1c"/>
<path d="M330.91,643.47 C330.91,639.63 333.90,636.84 336.90,636.84 L339.90,636.84 C342.90,636.84 345.89,639.63 345.89,643.47 L345.89,648.89 Q345.89,651.91 342.88,651.91 L333.92,651.91 Q330.91,651.91 330.91,648.89 Z" fill="#1e1e1c"/>
<text transform="translate(396.56,598.80) scale(1.2249,1)" x="0" y="0" font-size="15.18" fill="#2f3346" stroke="#2f3346" stroke-width="0.24" stroke-linejoin="round">2</text>
<text transform="translate(407.41,598.80) scale(1.4155,1)" x="0" y="0" font-size="15.19" fill="#2f3346" stroke="#2f3346" stroke-width="0.21" stroke-linejoin="round">0</text>
<text transform="translate(424.50,598.64) scale(1.1957,1)" x="0" y="0" font-size="16.58" fill="#2f3346" stroke="#2f3346" stroke-width="0.25" stroke-linejoin="round">c</text>
<text transform="translate(434.96,598.65) scale(1.2821,1)" x="0" y="0" font-size="17.03" fill="#2f3346" stroke="#2f3346" stroke-width="0.23" stroke-linejoin="round">m</text>
<rect x="398.60" y="605.50" width="1.80" height="8.50" fill="#bb1220"/>
<rect x="444.60" y="605.50" width="1.80" height="8.50" fill="#bb1220"/>
<rect x="399.50" y="609.00" width="46.00" height="2.00" fill="#bb1220"/>
<rect x="381.50" y="622.55" width="60.50" height="2.50" fill="#1e1e1c"/>
<circle cx="399.20" cy="619.25" r="2.15" fill="none" stroke="#1e1e1c" stroke-width="1.30"/>
<rect x="394.26" y="622.17" width="9.88" height="4.09" rx="0.59" fill="#1e1e1c"/>
<rect x="397.96" y="625.77" width="2.47" height="9.50" fill="#1e1e1c"/>
<path d="M393.19,639.58 C393.19,636.50 395.59,634.26 398.00,634.26 L400.40,634.26 C402.81,634.26 405.21,636.50 405.21,639.58 L405.21,643.94 Q405.21,646.35 402.79,646.35 L395.61,646.35 Q393.19,646.35 393.19,643.94 Z" fill="#1e1e1c"/>
<g transform="translate(457.00,623.80) scale(-0.650,0.650)"><path d="M0,-7.2 Q0,-8.8 1.6,-8.8 L9.8,-8.8 Q9.9,-9.6 10.9,-9.6 L12.1,-9.6 Q13.1,-9.6 13.1,-8.4 L13.1,-6.2 L14.6,-4.0 L19.4,-4.0 Q20.4,-5.2 21.9,-5.2 Q23.6,-5.2 25.3,-2.6 L25.3,2.6 Q23.6,5.2 21.9,5.2 Q20.4,5.2 19.4,4.0 L14.6,4.0 L13.1,6.2 L13.1,8.4 Q13.1,9.6 12.1,9.6 L10.9,9.6 Q9.9,9.6 9.8,8.8 L1.6,8.8 Q0,8.8 0,7.2 Z" fill="#1e1e1c"/><path d="M2.6,-6.2 Q1.2,0 2.6,6.2" fill="none" stroke="#8a8a8a" stroke-width="0.9"/></g>
<rect x="491.50" y="596.90" width="83.00" height="3.80" fill="#1e1e1c"/>
<circle cx="518.60" cy="589.57" r="4.54" fill="none" stroke="#1e1e1c" stroke-width="3.12"/>
<rect x="507.38" y="594.97" width="22.44" height="8.80" rx="1.28" fill="#1e1e1c"/>
<rect x="515.90" y="603.27" width="5.40" height="19.39" fill="#1e1e1c"/>
<path d="M505.47,633.28 C505.47,626.54 510.72,621.66 515.97,621.66 L521.23,621.66 C526.48,621.66 531.74,626.54 531.74,633.28 L531.74,642.79 Q531.74,648.07 526.45,648.07 L510.75,648.07 Q505.47,648.07 505.47,642.79 Z" fill="#1e1e1c"/>
<rect x="545.4" y="608.6" width="3.1" height="16.2" fill="#2f3346"/>
<rect x="541.6" y="608.6" width="4.2" height="2.5" fill="#2f3346"/>
<text transform="translate(552.27,624.87) scale(1.3312,1)" x="0" y="0" font-size="23.73" fill="#2f3346" stroke="#2f3346" stroke-width="0.68" stroke-linejoin="round">0</text>
<text x="535.20" y="639.50" font-size="14.49" textLength="36.82" lengthAdjust="spacingAndGlyphs" fill="#2f3346" stroke="#2f3346" stroke-width="0.25" stroke-linejoin="round" >unds</text>
<text transform="translate(508.13,689.80) scale(0.8321,1)" x="0" y="0" font-size="30.38" fill="#1e1e1e">E</text>
<text transform="translate(525.42,689.80) scale(1.1336,1)" x="0" y="0" font-size="24.20" fill="#1e1e1e">2</text>
<text transform="translate(540.01,693.50) scale(1.0359,1)" x="0" y="0" font-size="29.94" fill="#1e1e1e">7</text>
<rect x="630.6" y="588.3" width="4.0" height="19" rx="2" fill="#1e1e1c"/>
<rect x="651.0" y="588.3" width="4.0" height="19" rx="2" fill="#1e1e1c"/>
<path fill="#1e1e1c" d="M623.4,606.6 H661.5 Q662.3,606.6 662.3,607.4 V626.5 Q665.2,627 665.2,630.5 Q665.2,634 662,634.6 Q655,636.5 654.1,641 V647.5 Q656.2,648.5 656.2,652 Q656.2,655.5 652,656.5 V663.5 H634.6 V656.5 Q629.3,655.5 629.3,652 Q629.3,648.5 631.2,647.5 V641 Q630.3,636.5 623.3,634.6 Q620.2,634 620.2,630.5 Q620.2,627 622.6,626.5 V607.4 Q622.6,606.6 623.4,606.6 Z"/>
<text x="626.53" y="625.50" font-size="10.88" textLength="22.73" lengthAdjust="spacingAndGlyphs" fill="#ffffff" font-weight="bold" >220</text>
<text transform="translate(652.15,625.30) scale(1.0385,1)" font-size="12.30" fill="#ffffff" font-weight="bold">v</text>
<text transform="translate(714.45,597.20) scale(0.9366,1)" font-size="14.97" fill="#2f3346">E</text>
<text transform="translate(723.65,597.20) scale(0.9538,1)" font-size="13.82" fill="#2f3346">x</text>
<text transform="translate(731.10,597.19) scale(1.4078,1)" font-size="13.91" fill="#2f3346">t</text>
<text transform="translate(736.82,597.26) scale(1.1522,1)" font-size="13.87" fill="#2f3346">e</text>
<text transform="translate(745.55,597.20) scale(1.1468,1)" font-size="13.75" fill="#2f3346">n</text>
<text transform="translate(754.42,597.26) scale(0.9728,1)" font-size="13.91" fill="#2f3346">s</text>
<text transform="translate(761.31,597.20) scale(1.3222,1)" font-size="14.63" fill="#2f3346">i</text>
<text transform="translate(764.95,597.26) scale(1.2096,1)" font-size="14.71" fill="#2f3346">b</text>
<text transform="translate(774.97,597.20) scale(1.2444,1)" font-size="14.63" fill="#2f3346">l</text>
<text transform="translate(781.30,597.26) scale(1.3519,1)" font-size="13.87" fill="#2f3346">e</text>
<path fill="#2f3346" d="M777.6,595.7 Q778.2,596.2 780.2,596.0 V597.3 Q777.8,597.6 776.6,596.6 Z"/>
<path fill="#1e1e1c" d="M733.2,607.2 A19.75,4 0 0 1 772.7,607.2 V626.5 Q775.5,627 775.5,630.8 Q775.5,634.6 772,635.2 Q764.5,637 763.5,641.5 V648 Q766,649 766,653 Q766,657 762,657.8 V663.5 H744 V657.8 Q740,657 740,653 Q740,649 742.4,648 V641.5 Q741.5,637 734,635.2 Q730.3,634.6 730.3,630.8 Q730.3,627 733.2,626.5 Z"/>
<ellipse cx="753" cy="607.6" rx="18.3" ry="3.4" fill="none" stroke="#b8b8b8" stroke-width="0.9"/>
<ellipse cx="742.6" cy="606.6" rx="2.3" ry="1.3" fill="none" stroke="#d0d0d0" stroke-width="0.8"/>
<ellipse cx="763.2" cy="606.6" rx="2.3" ry="1.3" fill="none" stroke="#d0d0d0" stroke-width="0.8"/>
<polyline points="831.4,604.6 854.1,586.0 876.9,604.6" fill="none" stroke="#1e1e1c" stroke-width="4.4" stroke-linecap="round" stroke-linejoin="round"/>
<polygon points="834.5,607.1 854.1,591.8 873.7,607.1 873.7,638.5 834.5,638.5" fill="#1e1e1c"/>
<path fill="#fff" d="M850,626.3 L860.5,620.6 L860.5,624.3 L873.7,624.3 L873.7,628.4 L860.5,628.4 L860.5,632.1 Z"/>
<path fill="#1b1b1b" d="M842.9,645.1 H848.8 V646.8 H846.8 V655.1 H848.8 V656.8 H842.9 V655.1 H844.9 V646.8 H842.9 Z"/>
<text transform="translate(849.63,656.80) scale(0.9833,1)" font-size="17.01" fill="#1b1b1b" stroke="#1b1b1b" stroke-width="0.46">P</text>
<path fill="#1b1b1b" d="M871.43,647.00 L873.41,647.00 L868.38,655.45 L866.40,655.45 L866.40,653.65 Z"/>
<rect x="866.40" y="653.65" width="8.40" height="1.80" fill="#1b1b1b"/>
<rect x="871.52" y="651.88" width="1.80" height="6.22" fill="#1b1b1b"/>
<path fill="#1b1b1b" d="M880.99,647.00 L882.97,647.00 L877.58,655.45 L875.60,655.45 L875.60,653.65 Z"/>
<rect x="875.60" y="653.65" width="8.90" height="1.80" fill="#1b1b1b"/>
<rect x="881.08" y="651.88" width="1.80" height="6.22" fill="#1b1b1b"/>
</svg>
</body></html>
